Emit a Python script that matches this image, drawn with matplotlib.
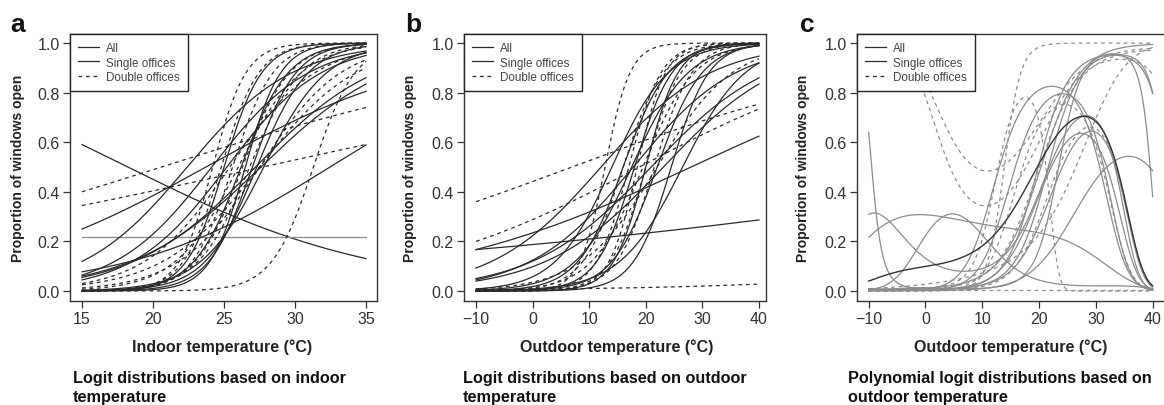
import numpy as np
import matplotlib.pyplot as plt
from matplotlib.lines import Line2D

plt.rcParams["font.family"] = ["Liberation Sans", "DejaVu Sans"]

# panel a: logit models on indoor temperature, logit(p) = intercept + slope * T
a_solid_intercept = [2.06, -1.28, -2.99, -6.05, -6.34, -6.03, -7.06, -7.56,
                     -18.75, -21.2, -17.55, -15.02, -15.72, -12.51, -4.61]
a_solid_slope = [-0.113, 0.0, 0.126, 0.27, 0.233, 0.2185, 0.2925, 0.30,
                 0.75, 0.8, 0.65, 0.55, 0.6, 0.45, 0.142]
a_dashed_intercept = [-1.493, -1.40, -21.28, -20.57, -18.6, -15.78, -14.74,
                      -9.63, -8.06, -8.46, -11.7, -17.92]
a_dashed_slope = [0.0725, 0.0505, 0.68, 0.85, 0.75, 0.6, 0.55,
                  0.35, 0.293, 0.333, 0.45, 0.7]

# panel b: logit models on outdoor temperature
b_solid_intercept = [-1.468, -1.184, -1.25, -1.955, -1.99, -2.22, -4.77,
                     -7.35, -4.0, -5.4, -7.0, -3.5, -5.5, -2.8]
b_solid_slope = [0.0139, 0.0423, 0.1033, 0.110, 0.095, 0.096, 0.18,
                 0.30, 0.25, 0.3, 0.35, 0.2, 0.25, 0.2]
b_dashed_intercept = [-0.236, -0.906, -4.95, -5.76, -5.95, -7.4, -6.4,
                      -6.45, -4.29, -3.3, -4.48]
b_dashed_slope = [0.0339, 0.048, 0.035, 0.45, 0.35, 0.40, 0.32,
                  0.30, 0.22, 0.15, 0.28]

# panel c: polynomial logit models, given by points
c_all_temps = [-10, 0, 10, 17, 22, 28, 32, 36, 40]
c_all_props = [0.04, 0.10, 0.175, 0.40, 0.60, 0.69, 0.60, 0.30, 0.02]

c_solid_temps = [
    [-10, -7.5, -5, 0, 10, 20, 27, 33, 40],
    [-10, -5, 0, 5, 10, 15, 22, 28, 33, 38],
    [-10, -5, -1, 4, 10, 20, 25, 30, 35, 40],
    [-10, -5, 2, 6, 10, 15, 20, 30, 40],
    [-10, 0, 8, 13, 21, 27, 31, 35, 40],
    [-10, 5, 12, 17, 24, 30, 34, 38],
    [-10, 0, 10, 18, 24, 28, 33, 37, 40],
    [-10, 5, 15, 22, 27, 30, 34, 38, 40],
    [-10, 5, 15, 21, 26, 32, 37, 40],
    [-10, 10, 20, 25, 30, 35, 38, 40],
    [-10, 5, 12, 18, 24, 30, 35, 40],
    [-10, 0, 10, 14.5, 20.4, 26.3, 32.2, 36, 40],
]
c_solid_props = [
    [0.67, 0.12, 0.03, 0.012, 0.02, 0.4, 0.85, 0.95, 0.8],
    [0.32, 0.22, 0.14, 0.10, 0.08, 0.15, 0.55, 0.72, 0.5, 0.05],
    [0.21, 0.30, 0.33, 0.28, 0.25, 0.245, 0.22, 0.13, 0.05, 0.01],
    [0.005, 0.05, 0.33, 0.30, 0.2, 0.1, 0.05, 0.02, 0.01],
    [0.002, 0.01, 0.10, 0.50, 0.86, 0.75, 0.45, 0.10, 0.005],
    [0.003, 0.02, 0.20, 0.55, 0.84, 0.60, 0.20, 0.02],
    [0.002, 0.005, 0.03, 0.25, 0.60, 0.72, 0.40, 0.05, 0.01],
    [0.002, 0.01, 0.08, 0.35, 0.62, 0.70, 0.45, 0.06, 0.02],
    [0.003, 0.01, 0.15, 0.60, 0.88, 0.95, 0.92, 0.80],
    [0.001, 0.01, 0.25, 0.60, 0.90, 0.97, 0.80, 0.34],
    [0.01, 0.02, 0.10, 0.40, 0.75, 0.93, 0.98, 0.995],
    [0.001, 0.002, 0.006, 0.02, 0.195, 0.357, 0.45, 0.49, 0.525],
]
c_solid_degree = [5, 5, 4, 5, 4, 4, 4, 4, 4, 4, 3, 3]

c_dashed_temps = [
    [-10, -5, -1, 3, 8.5, 15, 22, 30, 40],
    [-10, -5, 0, 4.5, 8, 14, 20, 28, 40],
    [-10, 5, 10, 12, 14.5, 17, 19.5, 25, 40],
    [-10, -5, 0, 5, 12, 17, 20, 22, 24],
    [-10, 5, 15, 24, 32, 38, 40],
    [-10, 0, 10, 20, 25, 29, 34, 40],
    [-10, 5, 15, 22, 30, 40],
    [-10, 5, 12, 20, 25, 31, 36, 40],
    [-10, 10, 25, 40],
]
c_dashed_props = [
    [0.999, 0.995, 0.80, 0.58, 0.485, 0.60, 0.80, 0.90, 0.98],
    [0.999, 0.99, 0.75, 0.37, 0.30, 0.45, 0.72, 0.83, 0.88],
    [0.001, 0.005, 0.05, 0.15, 0.57, 0.93, 0.99, 0.998, 0.999],
    [0.003, 0.006, 0.015, 0.05, 0.30, 0.70, 0.75, 0.50, 0.02],
    [0.001, 0.01, 0.30, 0.79, 0.40, 0.02, 0.005],
    [0.001, 0.002, 0.02, 0.25, 0.55, 0.75, 0.40, 0.02],
    [0.003, 0.02, 0.20, 0.60, 0.92, 0.97],
    [0.01, 0.03, 0.10, 0.30, 0.50, 0.70, 0.85, 0.99],
    [0.003, 0.003, 0.003, 0.003],
]
c_dashed_degree = [4, 4, 3, 4, 4, 4, 3, 3, 1]

legend_labels = ["All", "Single offices", "Double offices"]
panel_letters = ["a", "b", "c"]
x_labels = ["Indoor temperature (°C)", "Outdoor temperature (°C)",
            "Outdoor temperature (°C)"]
subtitles = ["Logit distributions based on indoor\ntemperature",
             "Logit distributions based on outdoor\ntemperature",
             "Polynomial logit distributions based on\noutdoor temperature"]

W, H = 1164, 406
DARK = "#2a2a2a"
GRAY = "#8c8c8c"
DASH = (0, (3, 3))


def inv_logit(z):
    return 1.0 / (1.0 + np.exp(-z))


def poly_curve(temps, props, deg, t):
    p = np.clip(np.array(props), 0.001, 0.999)
    coef = np.polyfit(temps, np.log(p / (1 - p)), deg)
    return inv_logit(np.polyval(coef, t))


fig = plt.figure(figsize=(W / 100, H / 100), dpi=100)


def add_axes(left, right, top=35, bottom=302):
    return fig.add_axes([left / W, 1 - bottom / H, (right - left) / W, (bottom - top) / H])


ax_a = add_axes(70, 377)
ax_b = add_axes(464, 766)
ax_c = add_axes(857, 1164.6)

t_in = np.linspace(15, 35, 300)
for a, b in zip(a_solid_intercept, a_solid_slope):
    col = GRAY if b == 0 else DARK
    ax_a.plot(t_in, inv_logit(a + b * t_in), color=col, lw=0.9)
for a, b in zip(a_dashed_intercept, a_dashed_slope):
    ax_a.plot(t_in, inv_logit(a + b * t_in), color=DARK, lw=0.9, ls=DASH)

t_out = np.linspace(-10, 40, 400)
for a, b in zip(b_solid_intercept, b_solid_slope):
    ax_b.plot(t_out, inv_logit(a + b * t_out), color=DARK, lw=0.9)
for a, b in zip(b_dashed_intercept, b_dashed_slope):
    ax_b.plot(t_out, inv_logit(a + b * t_out), color=DARK, lw=0.9, ls=DASH)

for temps, props, deg in zip(c_solid_temps, c_solid_props, c_solid_degree):
    ax_c.plot(t_out, poly_curve(temps, props, deg, t_out), color=GRAY, lw=0.9)
for temps, props, deg in zip(c_dashed_temps, c_dashed_props, c_dashed_degree):
    ax_c.plot(t_out, poly_curve(temps, props, deg, t_out), color=GRAY, lw=0.9, ls=DASH)
ax_c.plot(t_out, poly_curve(c_all_temps, c_all_props, 4, t_out), color="#333333", lw=1.0)

setup = [
    (ax_a, (14.155, 35.77), [15, 20, 25, 30, 35], ["15", "20", "25", "30", "35"]),
    (ax_b, (-12.12, 41.24), [-10, 0, 10, 20, 30, 40], ["\u221210", "0", "10", "20", "30", "40"]),
    (ax_c, (-12.06, 42.1), [-10, 0, 10, 20, 30, 40], ["\u221210", "0", "10", "20", "30", "40"]),
]
for ax, xl, xt, xtl in setup:
    ax.set_xlim(*xl)
    ax.set_ylim(-0.0403, 1.0363)
    ax.set_xticks(xt)
    ax.set_xticklabels(xtl)
    ax.set_yticks([0, 0.2, 0.4, 0.6, 0.8, 1.0])
    ax.set_yticklabels(["0.0", "0.2", "0.4", "0.6", "0.8", "1.0"])
    ax.tick_params(direction="out", length=5, width=0.9, colors="#333333",
                   labelsize=11.5, pad=2.5)
    for s in ax.spines.values():
        s.set_color("#333333")
        s.set_linewidth(1.0)
    handles = [Line2D([], [], color=DARK, lw=0.9),
               Line2D([], [], color=DARK, lw=0.9),
               Line2D([], [], color=DARK, lw=0.9, ls=DASH)]
    leg = ax.legend(handles, legend_labels, loc="upper left", bbox_to_anchor=(0, 1),
                    borderaxespad=0, fontsize=8.4, handlelength=1.8, handletextpad=0.6,
                    labelspacing=0.2, borderpad=0.7, fancybox=False,
                    edgecolor="#222222", framealpha=1)
    leg.get_frame().set_linewidth(1.0)
    for txt in leg.get_texts():
        txt.set_color("#444444")

letter_x = [10, 405, 800]
ylabel_x = [18, 410, 803]
xlabel_x = [222, 617, 1011]
subtitle_x = [73, 463, 848]
for i in range(3):
    fig.text(letter_x[i] / W, 1 - 32 / H, panel_letters[i], fontsize=19,
             fontweight="bold", va="baseline", ha="left", color="#111111")
    fig.text(ylabel_x[i] / W, 1 - 168 / H, "Proportion of windows open", rotation=90,
             fontsize=10, fontweight="bold", va="center", ha="center", color="#222222")
    fig.text(xlabel_x[i] / W, 1 - 347 / H, x_labels[i], fontsize=11.5,
             fontweight="bold", va="center", ha="center", color="#222222")
    fig.text(subtitle_x[i] / W, 1 - 371 / H, subtitles[i], fontsize=11.7,
             fontweight="bold", va="top", ha="left", linespacing=1.35, color="#111111")

fig.savefig("out.png", dpi=100)
